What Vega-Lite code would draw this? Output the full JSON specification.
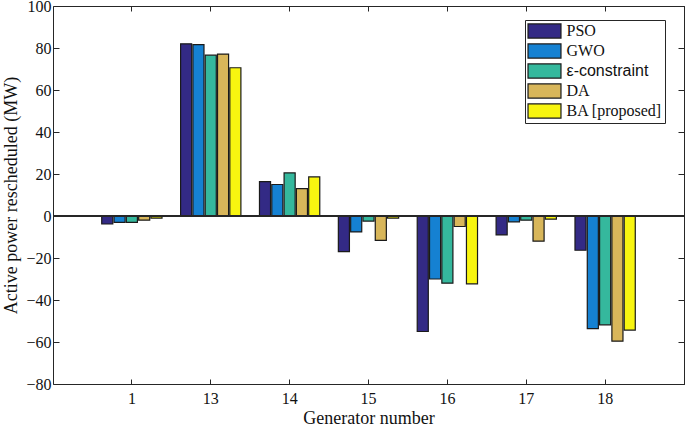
{
  "$schema": "https://vega.github.io/schema/vega-lite/v6.json",
  "width": 631,
  "height": 378,
  "autosize": {"type": "none"},
  "padding": {"left": 53, "top": 6, "right": 1, "bottom": 45},
  "background": "white",
  "config": {
    "view": {"stroke": "#262626", "strokeWidth": 1},
    "font": "Liberation Serif",
    "axis": {"labelFont": "Liberation Serif", "titleFont": "Liberation Serif", "labelColor": "#111", "titleColor": "#111", "titleFontWeight": "normal", "domainColor": "#262626", "tickColor": "#262626", "grid": false}
  },
  "data": {
    "values": [
      {"gen": "1", "method": "PSO", "value": -3.8},
      {"gen": "1", "method": "GWO", "value": -3},
      {"gen": "1", "method": "ε-constraint", "value": -3},
      {"gen": "1", "method": "DA", "value": -2},
      {"gen": "1", "method": "BA [proposed]", "value": -1},
      {"gen": "13", "method": "PSO", "value": 82},
      {"gen": "13", "method": "GWO", "value": 81.6},
      {"gen": "13", "method": "ε-constraint", "value": 76.6},
      {"gen": "13", "method": "DA", "value": 77.1},
      {"gen": "13", "method": "BA [proposed]", "value": 70.6},
      {"gen": "14", "method": "PSO", "value": 16.4},
      {"gen": "14", "method": "GWO", "value": 15},
      {"gen": "14", "method": "ε-constraint", "value": 20.5},
      {"gen": "14", "method": "DA", "value": 13},
      {"gen": "14", "method": "BA [proposed]", "value": 18.6},
      {"gen": "15", "method": "PSO", "value": -17},
      {"gen": "15", "method": "GWO", "value": -7.6},
      {"gen": "15", "method": "ε-constraint", "value": -2.4},
      {"gen": "15", "method": "DA", "value": -11.6},
      {"gen": "15", "method": "BA [proposed]", "value": -1},
      {"gen": "16", "method": "PSO", "value": -55},
      {"gen": "16", "method": "GWO", "value": -30},
      {"gen": "16", "method": "ε-constraint", "value": -32},
      {"gen": "16", "method": "DA", "value": -5},
      {"gen": "16", "method": "BA [proposed]", "value": -32.3},
      {"gen": "17", "method": "PSO", "value": -9},
      {"gen": "17", "method": "GWO", "value": -2.8},
      {"gen": "17", "method": "ε-constraint", "value": -2},
      {"gen": "17", "method": "DA", "value": -12},
      {"gen": "17", "method": "BA [proposed]", "value": -1.5},
      {"gen": "18", "method": "PSO", "value": -16.3},
      {"gen": "18", "method": "GWO", "value": -53.6},
      {"gen": "18", "method": "ε-constraint", "value": -51.8},
      {"gen": "18", "method": "DA", "value": -59.6},
      {"gen": "18", "method": "BA [proposed]", "value": -54.3}
    ]
  },
  "layer": [
    {
      "mark": {"type": "bar", "stroke": "#1a1a1a", "strokeWidth": 1.2},
      "encoding": {
        "x": {
          "field": "gen", "type": "nominal",
          "scale": {"domain": ["1", "13", "14", "15", "16", "17", "18"], "paddingInner": 0, "paddingOuter": 0.5},
          "axis": {"title": "Generator number", "labelAngle": 0, "labelFontSize": 16, "titleFontSize": 18, "tickSize": -5, "labelPadding": 11, "titlePadding": 3, "domain": false}
        },
        "xOffset": {
          "field": "method", "type": "nominal",
          "scale": {"domain": ["PSO", "GWO", "ε-constraint", "DA", "BA [proposed]"], "paddingInner": 0.1, "paddingOuter": 0.755}
        },
        "y": {
          "field": "value", "type": "quantitative",
          "scale": {"domain": [-80, 100], "nice": false, "zero": false},
          "axis": {"title": "Active power rescheduled (MW)", "values": [-80, -60, -40, -20, 0, 20, 40, 60, 80, 100], "labelFontSize": 16, "titleFontSize": 18, "tickSize": -6, "labelPadding": 8, "titlePadding": 5, "domain": false}
        },
        "color": {
          "field": "method", "type": "nominal",
          "scale": {"domain": ["PSO", "GWO", "ε-constraint", "DA", "BA [proposed]"], "range": ["#332a85", "#1581d2", "#35b89d", "#d8b65a", "#f8f510"]},
          "legend": {
            "title": null, "orient": "none", "legendX": 472, "legendY": 14,
            "symbolType": "M-2.06,-0.88H2.06V0.88H-2.06Z", "symbolSize": 256, "symbolOffset": 8.5, "symbolStrokeColor": "#1a1a1a", "symbolStrokeWidth": 1.2, "symbolOpacity": 1,
            "labelFontSize": 16, "labelFont": "Liberation Serif", "labelColor": "#111", "labelOffset": 13, "labelLimit": 200,
            "strokeColor": "#262626", "fillColor": "white", "padding": 2, "rowPadding": 0,
            "encode": {"labels": {"update": {"font": {"signal": "datum.label == 'ε-constraint' ? 'Liberation Sans' : 'Liberation Serif'"}}}}
          }
        }
      }
    },
    {
      "mark": {"type": "rule", "color": "#262626", "strokeWidth": 1},
      "encoding": {"y": {"datum": 0, "type": "quantitative"}}
    },
    {
      "mark": {"type": "bar", "opacity": 0},
      "encoding": {
        "x": {"field": "gen", "type": "nominal", "axis": {"title": null, "labels": false, "tickSize": -5, "domain": false}},
        "y": {"field": "value", "type": "quantitative", "axis": {"title": null, "labels": false, "values": [-80, -60, -40, -20, 0, 20, 40, 60, 80, 100], "tickSize": -6, "domain": false}}
      }
    }
  ],
  "resolve": {"axis": {"x": "independent", "y": "independent"}}
}
